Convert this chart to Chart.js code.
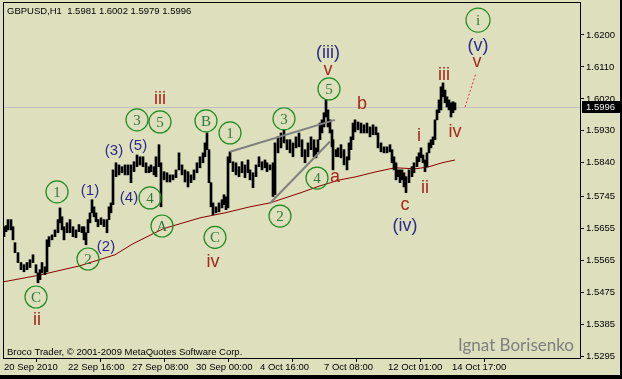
<!DOCTYPE html>
<html>
<head>
<meta charset="utf-8">
<script src="https://cdn.jsdelivr.net/npm/chart.js@4.4.1/dist/chart.umd.min.js"></script>
<style>
  html, body { margin: 0; padding: 0; background: #DDDFBD; }
  #wrap { width: 622px; height: 379px; }
</style>
</head>
<body>
<div id="wrap"><canvas id="chart" width="622" height="379"></canvas></div>
<script>
// hourly bars (bar index from 20 Sep 2010 00:00)
const barHour = [
  0, 2, 4, 7, 9, 11, 14, 17, 20, 23,
  26, 29, 32, 34, 36, 38, 41, 43, 45, 48,
  51, 54, 56, 58, 60, 63, 66, 69, 72, 75,
  78, 80, 82, 84, 86, 88, 90, 92, 94, 97,
  100, 103, 105, 107, 109, 112, 115, 118, 121, 124,
  127, 130, 133, 136, 139, 142, 145, 147, 150, 152,
  155, 157, 160, 163, 166, 169, 172, 175, 178, 181,
  184, 187, 190, 193, 196, 199, 201, 203, 205, 207,
  209, 212, 215, 218, 220, 222, 224, 226, 229, 232,
  235, 238, 241, 244, 246, 249, 252, 255, 258, 261,
  263, 266, 269, 271, 274, 277, 280, 283, 286, 289,
  292, 295, 298, 301, 304, 307, 310, 312, 314, 316,
  318, 320, 322, 324, 326, 328, 329, 332, 334, 337,
  340, 343, 345, 347, 349, 351, 354, 357, 360, 363,
  366, 369, 372, 374, 377, 380, 383, 386, 388, 390,
  392, 394, 396, 398, 400, 402, 405, 408, 410, 413,
  415, 417, 419, 421, 423, 425, 427, 429, 431, 433,
  435, 437, 439, 441, 443, 445, 447, 449, 451
];
const barHigh = [
  1.5660, 1.5663, 1.5680, 1.5680, 1.5660, 1.5615, 1.5587, 1.5559, 1.5553, 1.5559,
  1.5567, 1.5581, 1.5553, 1.5530, 1.5539, 1.5559, 1.5547, 1.5623, 1.5632, 1.5637,
  1.5651, 1.5680, 1.5713, 1.5688, 1.5660, 1.5671, 1.5680, 1.5660, 1.5651, 1.5666,
  1.5660, 1.5660, 1.5643, 1.5680, 1.5699, 1.5736, 1.5716, 1.5699, 1.5680, 1.5685,
  1.5680, 1.5680, 1.5716, 1.5727, 1.5820, 1.5840, 1.5834, 1.5829, 1.5834, 1.5834,
  1.5834, 1.5843, 1.5862, 1.5857, 1.5857, 1.5840, 1.5829, 1.5834, 1.5829, 1.5857,
  1.5891, 1.5840, 1.5815, 1.5812, 1.5806, 1.5806, 1.5820, 1.5868, 1.5834, 1.5820,
  1.5815, 1.5806, 1.5820, 1.5840, 1.5857, 1.5868, 1.5896, 1.5924, 1.5877, 1.5784,
  1.5727, 1.5716, 1.5727, 1.5736, 1.5750, 1.5744, 1.5857, 1.5871, 1.5843, 1.5840,
  1.5829, 1.5843, 1.5834, 1.5848, 1.5820, 1.5812, 1.5834, 1.5857, 1.5843, 1.5848,
  1.5840, 1.5834, 1.5840, 1.5896, 1.5913, 1.5924, 1.5933, 1.5905, 1.5905, 1.5896,
  1.5913, 1.5924, 1.5905, 1.5877, 1.5896, 1.5913, 1.5905, 1.5882, 1.5905, 1.5952,
  1.5961, 1.5981, 1.6017, 1.5989, 1.5961, 1.5933, 1.5905, 1.5877, 1.5882, 1.5891,
  1.5877, 1.5857, 1.5896, 1.5913, 1.5952, 1.5961, 1.5955, 1.5952, 1.5947, 1.5952,
  1.5941, 1.5947, 1.5941, 1.5924, 1.5896, 1.5885, 1.5885, 1.5891, 1.5877, 1.5857,
  1.5840, 1.5820, 1.5820, 1.5820, 1.5812, 1.5801, 1.5820, 1.5829, 1.5840, 1.5857,
  1.5868, 1.5882, 1.5862, 1.5848, 1.5868, 1.5896, 1.5905, 1.5913, 1.5961, 1.5989,
  1.6017, 1.6054, 1.6065, 1.6045, 1.6026, 1.6017, 1.6009, 1.6012, 1.6009
];
const barLow = [
  1.5632, 1.5646, 1.5651, 1.5651, 1.5623, 1.5587, 1.5559, 1.5539, 1.5533, 1.5539,
  1.5545, 1.5559, 1.5530, 1.5502, 1.5511, 1.5530, 1.5525, 1.5533, 1.5604, 1.5623,
  1.5632, 1.5643, 1.5671, 1.5651, 1.5623, 1.5643, 1.5643, 1.5632, 1.5629, 1.5646,
  1.5643, 1.5623, 1.5609, 1.5643, 1.5671, 1.5699, 1.5688, 1.5674, 1.5660, 1.5666,
  1.5660, 1.5643, 1.5680, 1.5699, 1.5722, 1.5801, 1.5806, 1.5812, 1.5806, 1.5806,
  1.5784, 1.5815, 1.5829, 1.5834, 1.5829, 1.5812, 1.5812, 1.5815, 1.5806, 1.5801,
  1.5829, 1.5716, 1.5792, 1.5786, 1.5786, 1.5792, 1.5798, 1.5820, 1.5806, 1.5786,
  1.5772, 1.5784, 1.5792, 1.5812, 1.5826, 1.5840, 1.5857, 1.5877, 1.5784, 1.5716,
  1.5694, 1.5699, 1.5702, 1.5713, 1.5722, 1.5708, 1.5713, 1.5840, 1.5815, 1.5806,
  1.5801, 1.5812, 1.5798, 1.5812, 1.5792, 1.5770, 1.5801, 1.5829, 1.5820, 1.5826,
  1.5815, 1.5820, 1.5745, 1.5750, 1.5868, 1.5882, 1.5896, 1.5877, 1.5868, 1.5857,
  1.5882, 1.5885, 1.5857, 1.5840, 1.5857, 1.5877, 1.5857, 1.5854, 1.5871, 1.5905,
  1.5924, 1.5941, 1.5969, 1.5941, 1.5924, 1.5885, 1.5820, 1.5857, 1.5857, 1.5854,
  1.5834, 1.5820, 1.5848, 1.5877, 1.5905, 1.5927, 1.5933, 1.5924, 1.5924, 1.5924,
  1.5913, 1.5919, 1.5919, 1.5882, 1.5871, 1.5868, 1.5868, 1.5871, 1.5840, 1.5820,
  1.5792, 1.5801, 1.5784, 1.5792, 1.5772, 1.5756, 1.5784, 1.5801, 1.5812, 1.5829,
  1.5843, 1.5854, 1.5840, 1.5815, 1.5829, 1.5868, 1.5882, 1.5891, 1.5905, 1.5961,
  1.5981, 1.5989, 1.6026, 1.6009, 1.5997, 1.5989, 1.5969, 1.5981, 1.5989
];

// moving average
const maHour = [0, 36, 76, 111, 129, 159, 196, 221, 246, 266, 296, 316, 336, 351, 371, 391, 411, 424, 438, 451];
const maValue = [1.5505, 1.5524, 1.5550, 1.5581, 1.5612, 1.5654, 1.5685, 1.5699, 1.5716, 1.5727,
                 1.5755, 1.5775, 1.5792, 1.5800, 1.5814, 1.5826, 1.5823, 1.5828, 1.5840, 1.5848];

// axis ticks
const priceTicks = [1.6200, 1.6110, 1.6020, 1.5930, 1.5840, 1.5745, 1.5655, 1.5565, 1.5475, 1.5385, 1.5295];
const timeTickHour = [0, 64, 128, 192, 256, 320, 384, 448];
const timeTickLabel = ['20 Sep 2010', '22 Sep 16:00', '27 Sep 08:00', '30 Sep 00:00',
                       '4 Oct 16:00', '7 Oct 08:00', '12 Oct 01:00', '14 Oct 17:00'];

const lastPrice = 1.5996;
const headerText = 'GBPUSD,H1  1.5981 1.6002 1.5979 1.5996';

// drawn lines: channel and projection
const upperLine = [{ x: 226, y: 1.5871 }, { x: 331, y: 1.5961 }];
const lowerLine = [{ x: 266, y: 1.5726 }, { x: 326, y: 1.5900 }];
const projLine = [{ x: 461, y: 1.5997 }, { x: 472, y: 1.6093 }];

// wave labels
const circleLabels = [
  ['C', 32, 1.5462], ['2', 84, 1.5569], ['1', 53, 1.5758], ['3', 133, 1.5961],
  ['5', 156, 1.5955], ['4', 146, 1.5741], ['A', 158, 1.5662], ['B', 202, 1.5958],
  ['C', 211, 1.5630], ['1', 226, 1.5924], ['3', 280, 1.5964], ['2', 276, 1.5690],
  ['4', 313, 1.5797], ['5', 325, 1.6048], ['i', 474, 1.6242]
];
const blueLabels = [
  ['(1)', 86, 1.5761, 15], ['(2)', 102, 1.5604, 15], ['(3)', 110, 1.5873, 15],
  ['(5)', 134, 1.5888, 15], ['(4)', 125, 1.5741, 15], ['(iii)', 324, 1.6150, 18],
  ['(iv)', 401, 1.5662, 18], ['(v)', 474, 1.6169, 18]
];
const redLabels = [
  ['iii', 156, 1.6020], ['ii', 33, 1.5398], ['iv', 209, 1.5561], ['v', 324, 1.6101],
  ['b', 358, 1.6006], ['a', 331, 1.5800], ['c', 401, 1.5721], ['i', 415, 1.5916],
  ['ii', 421, 1.5769], ['iii', 440, 1.6087], ['iv', 451, 1.5927], ['v', 473, 1.6124]
];

const BG = '#DDDFBD';
const FONT = 'Liberation Sans, Arial, sans-serif';

const bars = barHour.map((h, i) => ({ x: h, y: [barLow[i], barHigh[i]] }));
const ma = maHour.map((h, i) => ({ x: h, y: maValue[i] }));

const mtPlugin = {
  id: 'mt',
  beforeDraw(chart) {
    const ctx = chart.ctx;
    ctx.save();
    ctx.fillStyle = BG;
    ctx.fillRect(0, 0, chart.width, chart.height);
    ctx.restore();
  },
  beforeDatasetsDraw(chart) {
    const ctx = chart.ctx, a = chart.chartArea, y = chart.scales.y;
    ctx.save();
    // current price line
    const yp = Math.round(y.getPixelForValue(lastPrice)) + 0.5;
    ctx.strokeStyle = '#C0C0C0';
    ctx.lineWidth = 1;
    ctx.beginPath();
    ctx.moveTo(a.left, yp);
    ctx.lineTo(a.right, yp);
    ctx.stroke();
    // texts
    ctx.fillStyle = '#000';
    ctx.font = '9.5px ' + FONT;
    ctx.textBaseline = 'middle';
    ctx.textAlign = 'left';
    ctx.fillText(headerText, 7, 11);
    ctx.fillText('Broco Trader, \u00A9 2001-2009 MetaQuotes Software Corp.', 7, 352);
    ctx.fillStyle = '#7F7F7F';
    ctx.font = '17px Lato, ' + FONT;
    ctx.textAlign = 'right';
    ctx.textBaseline = 'alphabetic';
    ctx.fillText('Ignat Borisenko', 574, 351);
    ctx.restore();
  },
  afterDatasetsDraw(chart) {
    const ctx = chart.ctx, xs = chart.scales.x, ys = chart.scales.y;
    ctx.save();
    ctx.textAlign = 'center';
    ctx.textBaseline = 'middle';
    circleLabels.forEach(([t, h, p]) => {
      const cx = xs.getPixelForValue(h), cy = ys.getPixelForValue(p);
      ctx.beginPath();
      ctx.arc(cx, cy, t === 'i' ? 12 : 11, 0, Math.PI * 2);
      ctx.strokeStyle = '#1E8A1E';
      ctx.lineWidth = 1.2;
      ctx.stroke();
      ctx.fillStyle = '#2F7A3A';
      ctx.font = '15px Liberation Serif, Times New Roman, serif';
      ctx.fillText(t, cx, cy + 1);
    });
    blueLabels.forEach(([t, h, p, s]) => {
      ctx.fillStyle = '#2E2A8C';
      ctx.font = s + 'px ' + FONT;
      ctx.fillText(t, xs.getPixelForValue(h), ys.getPixelForValue(p));
    });
    redLabels.forEach(([t, h, p]) => {
      ctx.fillStyle = '#A3281E';
      ctx.font = '18px ' + FONT;
      ctx.fillText(t, xs.getPixelForValue(h), ys.getPixelForValue(p));
    });
    ctx.restore();
  },
  afterDraw(chart) {
    const ctx = chart.ctx, a = chart.chartArea, ys = chart.scales.y;
    ctx.save();
    // chart frame
    ctx.strokeStyle = '#000';
    ctx.lineWidth = 1;
    ctx.strokeRect(a.left + 0.5, a.top + 0.5, a.right - a.left, a.bottom - a.top);
    // price box
    const yp = Math.round(ys.getPixelForValue(lastPrice));
    ctx.fillStyle = '#000';
    ctx.fillRect(a.right + 2, yp - 6, chart.width - a.right - 2, 12);
    ctx.fillStyle = '#F0F0F0';
    ctx.font = '9.5px ' + FONT;
    ctx.textAlign = 'left';
    ctx.textBaseline = 'middle';
    ctx.fillText(lastPrice.toFixed(4), a.right + 6, yp);
    // window edge
    ctx.fillStyle = '#000';
    ctx.fillRect(0, chart.height - 4, chart.width, 4);
    ctx.fillRect(chart.width - 2, 0, 2, chart.height);
    ctx.restore();
  }
};

new Chart(document.getElementById('chart'), {
  type: 'bar',
  data: {
    datasets: [
      {
        type: 'line', data: upperLine, borderColor: '#808080', borderWidth: 2,
        pointRadius: 0, order: -1
      },
      {
        type: 'line', data: lowerLine, borderColor: '#808080', borderWidth: 2,
        pointRadius: 0, order: -1
      },
      {
        type: 'line', data: projLine, borderColor: '#E0303A', borderWidth: 1,
        borderDash: [2, 2], pointRadius: 0, order: -1
      },
      {
        type: 'bar', data: bars, backgroundColor: '#000', borderWidth: 0,
        barThickness: 2, order: 0
      },
      {
        type: 'line', data: ma, borderColor: '#8B0000', borderWidth: 1,
        pointRadius: 0, order: 1
      }
    ]
  },
  options: {
    responsive: false,
    devicePixelRatio: 1,
    animation: false,
    layout: { padding: { left: 3, top: 2, right: 0, bottom: 0 } },
    plugins: { legend: { display: false }, tooltip: { enabled: false } },
    scales: {
      x: {
        type: 'linear',
        offset: false,
        min: -1,
        max: 576,
        grid: { drawOnChartArea: false, drawTicks: true, tickLength: 4, color: '#000' },
        border: { display: true, color: '#000' },
        ticks: {
          autoSkip: false, maxRotation: 0, align: 'start', padding: 0,
          color: '#000', font: { family: FONT, size: 9.5 },
          callback: v => timeTickLabel[timeTickHour.indexOf(v)]
        },
        afterBuildTicks: s => { s.ticks = timeTickHour.map(v => ({ value: v })); },
        afterFit: s => { s.height = 21; s.paddingLeft = 0; s.paddingRight = 0; }
      },
      y: {
        type: 'linear',
        position: 'right',
        min: 1.52902,
        max: 1.62929,
        grid: { drawOnChartArea: false, drawTicks: true, tickLength: 4, color: '#000' },
        border: { display: true, color: '#000' },
        ticks: {
          autoSkip: false, padding: 2, color: '#000',
          font: { family: FONT, size: 9.5 },
          callback: v => v.toFixed(4)
        },
        afterBuildTicks: s => { s.ticks = priceTicks.map(v => ({ value: v })); },
        afterFit: s => { s.width = 42; s.paddingTop = 0; s.paddingBottom = 0; }
      }
    }
  },
  plugins: [mtPlugin]
});
</script>
</body>
</html>
